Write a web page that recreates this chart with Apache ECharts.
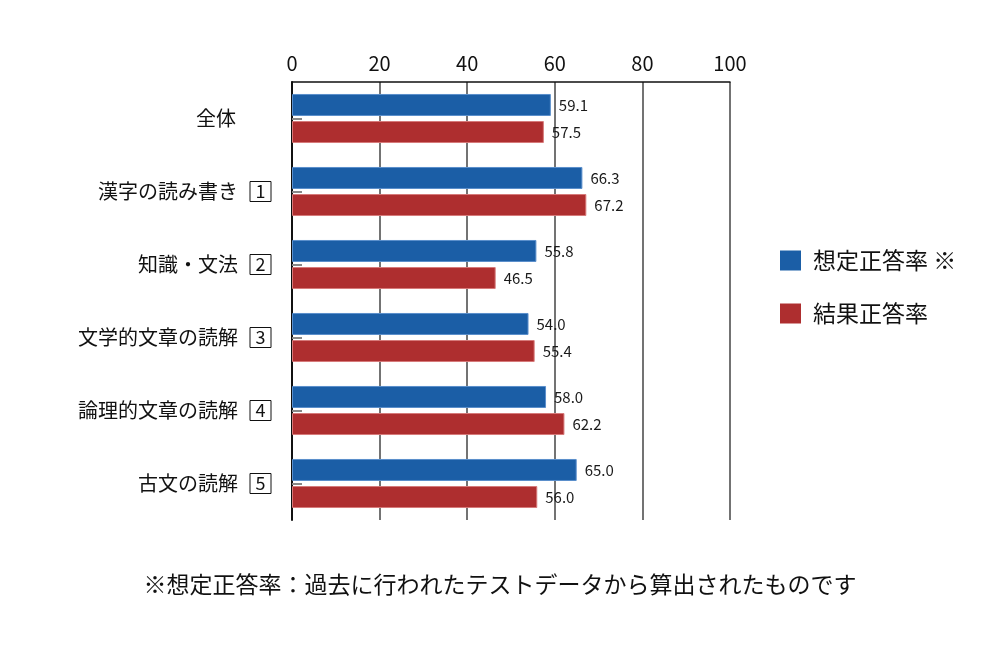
<!DOCTYPE html>
<html>
<head>
<meta charset="utf-8">
<script src="https://cdn.jsdelivr.net/npm/echarts@6/dist/echarts.min.js"></script>
<style>
  html, body {margin: 0; padding: 0; background: #fff;}
  #chart {width: 1000px; height: 660px;}
</style>
</head>
<body>
<div id="chart"></div>
<script>
const categories = ["全体", "漢字の読み書き", "知識・文法", "文学的文章の読解", "論理的文章の読解", "古文の読解"]
const boxNums = ["", "1", "2", "3", "4", "5"]
const expected = [59.1, 66.3, 55.8, 54.0, 58.0, 65.0]
const actual = [57.5, 67.2, 46.5, 55.4, 62.2, 56.0]
const seriesNames = ["想定正答率 ※", "結果正答率"]
const xTicks = [0, 20, 40, 60, 80, 100]
const note = "※想定正答率：過去に行われたテストデータから算出されたものです"

const font = "'Noto Sans CJK JP', 'Noto Sans', sans-serif"
const blue = "#1b5ea6"
const red = "#ae2e2f"

const valueLabel = {
  show: true,
  position: "right",
  distance: 8,
  fontSize: 15,
  color: "#1a1a1a",
  fontFamily: font,
  formatter: p => p.value.toFixed(1)
}

const chart = echarts.init(document.getElementById("chart"))
chart.setOption({
  animation: false,
  textStyle: {fontFamily: font},
  title: {
    text: note,
    left: "center",
    top: 568,
    textStyle: {fontSize: 23, fontWeight: "normal", color: "#111", fontFamily: font}
  },
  legend: {
    orient: "vertical",
    left: 775,
    top: 244,
    itemWidth: 21,
    itemHeight: 20,
    itemGap: 30,
    icon: "rect",
    itemStyle: {borderWidth: 0},
    textStyle: {fontSize: 23, color: "#111", padding: [0, 0, 0, 7], fontFamily: font},
    data: seriesNames
  },
  grid: {left: 292, right: 270, top: 82, bottom: 140, containLabel: false},
  xAxis: {
    type: "value",
    position: "top",
    min: xTicks[0],
    max: xTicks[xTicks.length - 1],
    interval: 20,
    axisLine: {show: true, lineStyle: {color: "#111", width: 1.5}},
    axisTick: {show: false},
    axisLabel: {fontSize: 20, color: "#111", margin: 9, fontFamily: font},
    splitLine: {show: true, lineStyle: {color: "#444", width: 1.5}}
  },
  yAxis: {
    type: "category",
    inverse: true,
    data: categories,
    axisLine: {show: true, lineStyle: {color: "#111", width: 2}},
    axisTick: {show: true, inside: true, alignWithLabel: true, length: 10, lineStyle: {color: "#888", width: 2}},
    axisLabel: {
      margin: 21,
      formatter(val, i) {
        return boxNums[i] ? `{t|${val}}{b|${boxNums[i]}}` : `{t|${val}}{e|}`
      },
      rich: {
        t: {fontSize: 20, color: "#111", padding: [0, 12, 0, 0], fontFamily: font},
        b: {fontSize: 18, color: "#111", width: 21, height: 20, lineHeight: 20, align: "center",
            borderColor: "#111", borderWidth: 1, fontFamily: font},
        e: {width: 23, height: 20}
      }
    }
  },
  series: [
    {
      name: seriesNames[0],
      type: "bar",
      data: expected,
      barWidth: 22,
      barGap: "23%",
      itemStyle: {color: blue, borderColor: "#5b8fcc", borderWidth: 1},
      label: valueLabel
    },
    {
      name: seriesNames[1],
      type: "bar",
      data: actual,
      barWidth: 22,
      itemStyle: {color: red, borderColor: "#d77a7a", borderWidth: 1},
      label: valueLabel
    }
  ]
})
</script>
</body>
</html>
